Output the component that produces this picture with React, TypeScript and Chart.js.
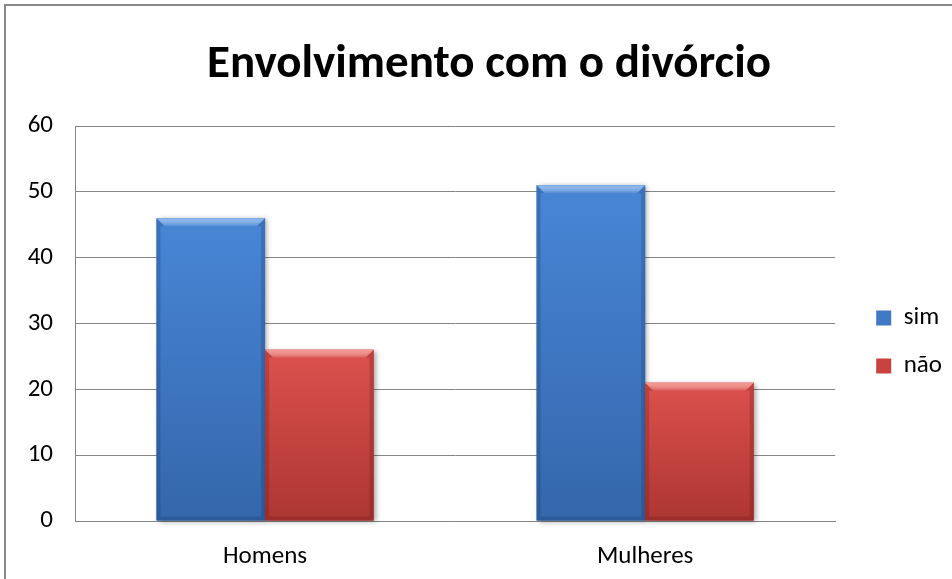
import React, { useEffect, useRef } from "react";
import { Chart, registerables } from "chart.js";

Chart.register(...registerables);

const categories = ["Homens", "Mulheres"];
const seriesNames = ["sim", "não"];
const simValues = [46, 51];
const naoValues = [26, 21];
const titleText = "Envolvimento com o divórcio";
const yMin = 0;
const yMax = 60;
const yStep = 10;

const FONT = "Carlito, Calibri, Lato, 'Open Sans', sans-serif";

const palettes = [
  { base: "#4079C4", top: "#4886D6", bottom: "#3467AB", hi: "rgba(150,192,242,0.85)", side: "rgba(20,45,90,0.22)" },
  { base: "#C9423F", top: "#DC514D", bottom: "#AD3633", hi: "rgba(252,160,155,0.85)", side: "rgba(90,15,15,0.22)" },
];

export default function App() {
  const ref = useRef<HTMLCanvasElement>(null);

  useEffect(() => {
    document.body.style.margin = "0";
    const canvas = ref.current!;

    const framePlugin = {
      id: "frame",
      beforeDraw(chart: any) {
        const ctx = chart.ctx;
        ctx.save();
        ctx.fillStyle = "#ffffff";
        ctx.fillRect(0, 0, chart.width, chart.height);
        ctx.strokeStyle = "#898989";
        ctx.lineWidth = 2;
        ctx.strokeRect(5, 5, chart.width + 40, chart.height + 40);
        ctx.restore();
      },
    };

    const bevelPlugin = {
      id: "bevel",
      afterDatasetsDraw(chart: any) {
        const ctx = chart.ctx;
        chart.data.datasets.forEach((_ds: any, di: number) => {
          const meta = chart.getDatasetMeta(di);
          const p = palettes[di];
          meta.data.forEach((bar: any) => {
            const { x, y, base, width } = bar.getProps(["x", "y", "base", "width"], true);
            const l = x - width / 2;
            const r = x + width / 2;
            const t = Math.min(y, base);
            const b = Math.max(y, base);
            ctx.save();
            ctx.shadowColor = "rgba(0,0,0,0.35)";
            ctx.shadowBlur = 5;
            ctx.shadowOffsetX = 2;
            ctx.shadowOffsetY = 1;
            const g = ctx.createLinearGradient(0, t, 0, b);
            g.addColorStop(0, p.top);
            g.addColorStop(1, p.bottom);
            ctx.fillStyle = g;
            ctx.fillRect(l, t, r - l, b - t);
            ctx.restore();

            const bv = 8;
            const s = 4;
            ctx.save();
            ctx.beginPath();
            ctx.moveTo(l, t);
            ctx.lineTo(r, t);
            ctx.lineTo(r - bv, t + bv);
            ctx.lineTo(l + bv, t + bv);
            ctx.closePath();
            const tg = ctx.createLinearGradient(0, t, 0, t + bv);
            tg.addColorStop(0, p.hi);
            tg.addColorStop(1, "rgba(255,255,255,0.05)");
            ctx.fillStyle = tg;
            ctx.fill();
            ctx.beginPath();
            ctx.moveTo(l, t);
            ctx.lineTo(l + bv, t + bv);
            ctx.lineTo(l + s, t + bv);
            ctx.lineTo(l + s, b - s);
            ctx.lineTo(l, b);
            ctx.closePath();
            ctx.fillStyle = p.side;
            ctx.fill();
            ctx.beginPath();
            ctx.moveTo(r, t);
            ctx.lineTo(r - bv, t + bv);
            ctx.lineTo(r - s, t + bv);
            ctx.lineTo(r - s, b - s);
            ctx.lineTo(r, b);
            ctx.closePath();
            ctx.fillStyle = p.side;
            ctx.fill();
            ctx.beginPath();
            ctx.moveTo(l, b);
            ctx.lineTo(r, b);
            ctx.lineTo(r - s, b - s);
            ctx.lineTo(l + s, b - s);
            ctx.closePath();
            ctx.fillStyle = p.side;
            ctx.fill();
            ctx.restore();
          });
        });
      },
    };

    const chart = new Chart(canvas, {
      type: "bar",
      data: {
        labels: categories,
        datasets: [
          { label: seriesNames[0], data: simValues, backgroundColor: palettes[0].base, borderWidth: 0 },
          { label: seriesNames[1], data: naoValues, backgroundColor: palettes[1].base, borderWidth: 0 },
        ],
      },
      options: {
        responsive: false,
        animation: false,
        devicePixelRatio: 1,
        categoryPercentage: 0.571,
        barPercentage: 1,
        layout: { padding: { left: 26, right: 0, top: 0, bottom: 0 } },
        plugins: {
          title: {
            display: true,
            text: titleText,
            color: "#000000",
            font: { family: FONT, size: 47, weight: "bold" },
            padding: { top: 37, bottom: 32.6 },
          },
          legend: {
            display: true,
            position: "right",
            fullSize: false,
            title: {
              display: true,
              text: " ",
              font: { family: FONT, size: 10 },
              padding: { top: 12.5, bottom: 12.5 },
            },
            labels: {
              boxWidth: 15,
              boxHeight: 15,
              padding: 23,
              color: "#000000",
              font: { family: FONT, size: 25 },
            },
          },
          tooltip: { enabled: false },
        },
        scales: {
          x: {
            grid: { display: false, drawTicks: false },
            border: { display: true, color: "#868686", width: 1 },
            ticks: { color: "#000000", font: { family: FONT, size: 25 }, padding: 21 },
            afterFit(s: any) {
              s.height = 58;
            },
          },
          y: {
            min: yMin,
            max: yMax,
            grid: { color: "#868686", lineWidth: 1, drawTicks: false },
            border: { display: true, color: "#868686", width: 1 },
            ticks: { stepSize: yStep, color: "#000000", font: { family: FONT, size: 25 }, padding: 22 },
            afterFit(s: any) {
              s.width = 49;
            },
          },
          gap: {
            type: "linear",
            position: "right",
            display: true,
            grid: { display: false, drawTicks: false },
            border: { display: false },
            ticks: { display: false },
            afterFit(s: any) {
              s.width = 18;
            },
          },
        },
      } as any,
      plugins: [framePlugin, bevelPlugin],
    });

    return () => chart.destroy();
  }, []);

  return (
    <div style={{ position: "fixed", left: 0, top: 0 }}>
      <canvas ref={ref} width={952} height={579} style={{ width: 952, height: 579, display: "block" }} />
    </div>
  );
}
